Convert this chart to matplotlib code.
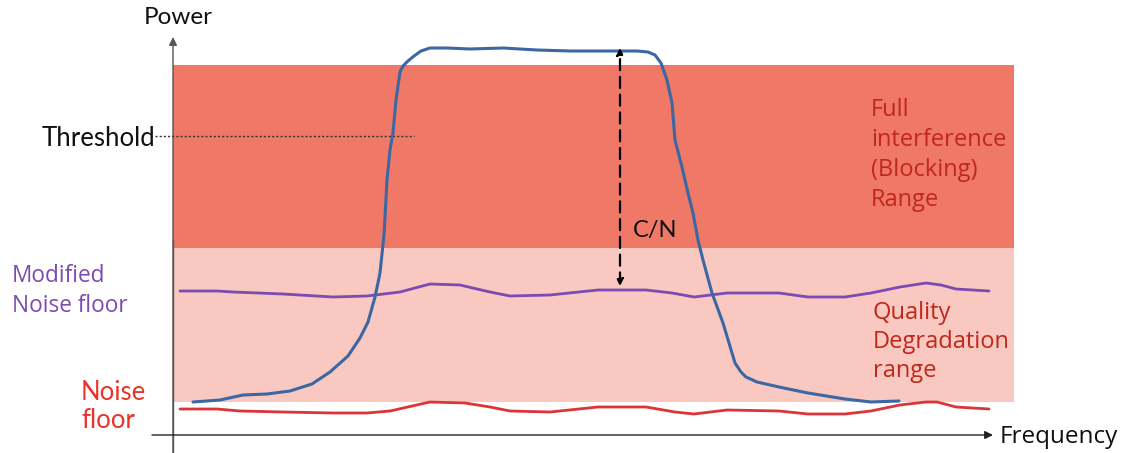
import matplotlib.pyplot as plt
from matplotlib.patches import Rectangle

OUTPUT_FILE = "out.png"

# Curves (frequency, level) in picture units, level grows downwards
signal_freq = [193, 220, 243, 267, 290, 312, 330, 348, 360, 368, 375, 380, 384,
               387, 390, 393, 396, 400, 403, 408, 414, 421, 430, 447, 470, 503,
               537, 570, 603, 637, 648, 655, 661, 667, 672, 675, 682, 688, 693,
               698, 703, 712, 723, 735, 741, 746, 757, 779, 808, 845, 871, 899]
signal_level = [402, 400, 395, 394, 391, 384, 372, 356, 338, 322, 297, 273, 235,
                180, 150, 133, 100, 72, 66, 61, 56, 51, 48, 48, 49, 48,
                50, 51, 51, 51, 52, 55, 63, 80, 103, 140, 167, 193, 213,
                240, 260, 293, 323, 363, 372, 377, 382, 387, 393, 399, 402, 401]

modified_freq = [180, 217, 233, 283, 333, 367, 400, 430, 460, 490, 510, 550, 598,
                 646, 672, 694, 727, 779, 808, 845, 871, 900, 926, 941, 956, 989]
modified_level = [291, 291, 292, 294, 297, 296, 292, 284, 285, 292, 296, 295, 290,
                  290, 293, 297, 293, 293, 297, 297, 293, 287, 283, 285, 289, 291]

noise_freq = [180, 217, 240, 283, 333, 367, 390, 430, 465, 490, 510, 550, 598,
              646, 675, 694, 727, 779, 808, 845, 871, 900, 926, 937, 956, 989]
noise_level = [409, 409, 411, 412, 413, 413, 411, 402, 403, 407, 411, 412, 407,
               407, 412, 414, 410, 411, 414, 414, 411, 405, 402, 402, 407, 409]

# Ranges: (top, bottom)
blocking_range = (65, 248)
quality_range = (248, 402)
threshold_level = 136
cn_freq = 620
cn_top, cn_bottom = 48, 286

GEO_FONT = ["Lato", "DejaVu Sans"]
BODY_FONT = ["Open Sans", "DejaVu Sans"]


def main():
    fig = plt.figure(figsize=(11.27, 4.53), dpi=100)
    ax = fig.add_axes([0, 0, 1, 1])
    ax.set_xlim(0, 1127)
    ax.set_ylim(453, 0)
    ax.set_axis_off()

    # coloured ranges
    ax.add_patch(Rectangle((173, blocking_range[0]), 1014 - 173,
                           blocking_range[1] - blocking_range[0],
                           color="#EF7866", lw=0, zorder=1))
    ax.add_patch(Rectangle((173, quality_range[0]), 1014 - 173,
                           quality_range[1] - quality_range[0],
                           color="#F8C8C1", lw=0, zorder=1))

    # axes with arrows
    ax.annotate("", xy=(173, 37), xytext=(173, 453),
                arrowprops=dict(arrowstyle="-|>", color="#555555", lw=1,
                                mutation_scale=12, shrinkA=0, shrinkB=0),
                zorder=2)
    ax.plot([173, 173], [240, 453], color="#555555", lw=1, zorder=2)
    ax.annotate("", xy=(993, 435), xytext=(152, 435),
                arrowprops=dict(arrowstyle="-|>", color="#222222", lw=1,
                                mutation_scale=12, shrinkA=0, shrinkB=0),
                zorder=2)

    # threshold
    ax.plot([155, 414], [threshold_level, threshold_level], color="#333333",
            lw=1, ls=(0, (1.5, 1.5)), zorder=3)

    # curves
    ax.plot(noise_freq, noise_level, color="#DC3438", lw=2, zorder=4,
            solid_joinstyle="round", solid_capstyle="round")
    ax.plot(modified_freq, modified_level, color="#7D4AB2", lw=2, zorder=4,
            solid_joinstyle="round", solid_capstyle="round")
    ax.plot(signal_freq, signal_level, color="#3B67A2", lw=2.2, zorder=5,
            solid_joinstyle="round", solid_capstyle="round")

    # C/N arrow
    ax.annotate("", xy=(cn_freq, cn_top), xytext=(cn_freq, cn_bottom),
                arrowprops=dict(arrowstyle="<|-|>", color="black", lw=1.6,
                                ls=(0, (5, 3)), mutation_scale=10,
                                shrinkA=0, shrinkB=0),
                zorder=6)
    ax.text(633, 230, "C/N", fontsize=17, family=GEO_FONT, color="#111111",
            ha="left", va="center", zorder=6)

    # labels
    ax.text(178, 18, "Power", fontsize=17.5, family=GEO_FONT, color="#111111",
            ha="center", va="center")
    ax.text(155, 139, "Threshold", fontsize=18.5, family=GEO_FONT,
            color="#111111", ha="right", va="center")
    ax.text(1000, 437, "Frequency", fontsize=17.5, family=BODY_FONT,
            color="#111111", ha="left", va="center")
    ax.text(12, 291, "Modified\nNoise floor", fontsize=16.3, family=BODY_FONT,
            color="#7D4AB2", ha="left", va="center", linespacing=1.38)
    ax.text(81, 407, "Noise\nfloor", fontsize=18.5, family=GEO_FONT,
            color="#E8342A", ha="left", va="center", linespacing=1.15)
    ax.text(871, 155, "Full\ninterference\n(Blocking)\nRange", fontsize=17,
            family=BODY_FONT, color="#C0281B", ha="left", va="center",
            linespacing=1.33, zorder=6)
    ax.text(873, 342, "Quality\nDegradation\nrange", fontsize=17,
            family=BODY_FONT, color="#C0281B", ha="left", va="center",
            linespacing=1.3, zorder=6)

    plt.savefig(OUTPUT_FILE, dpi=100)
    plt.close()


if __name__ == "__main__":
    main()
